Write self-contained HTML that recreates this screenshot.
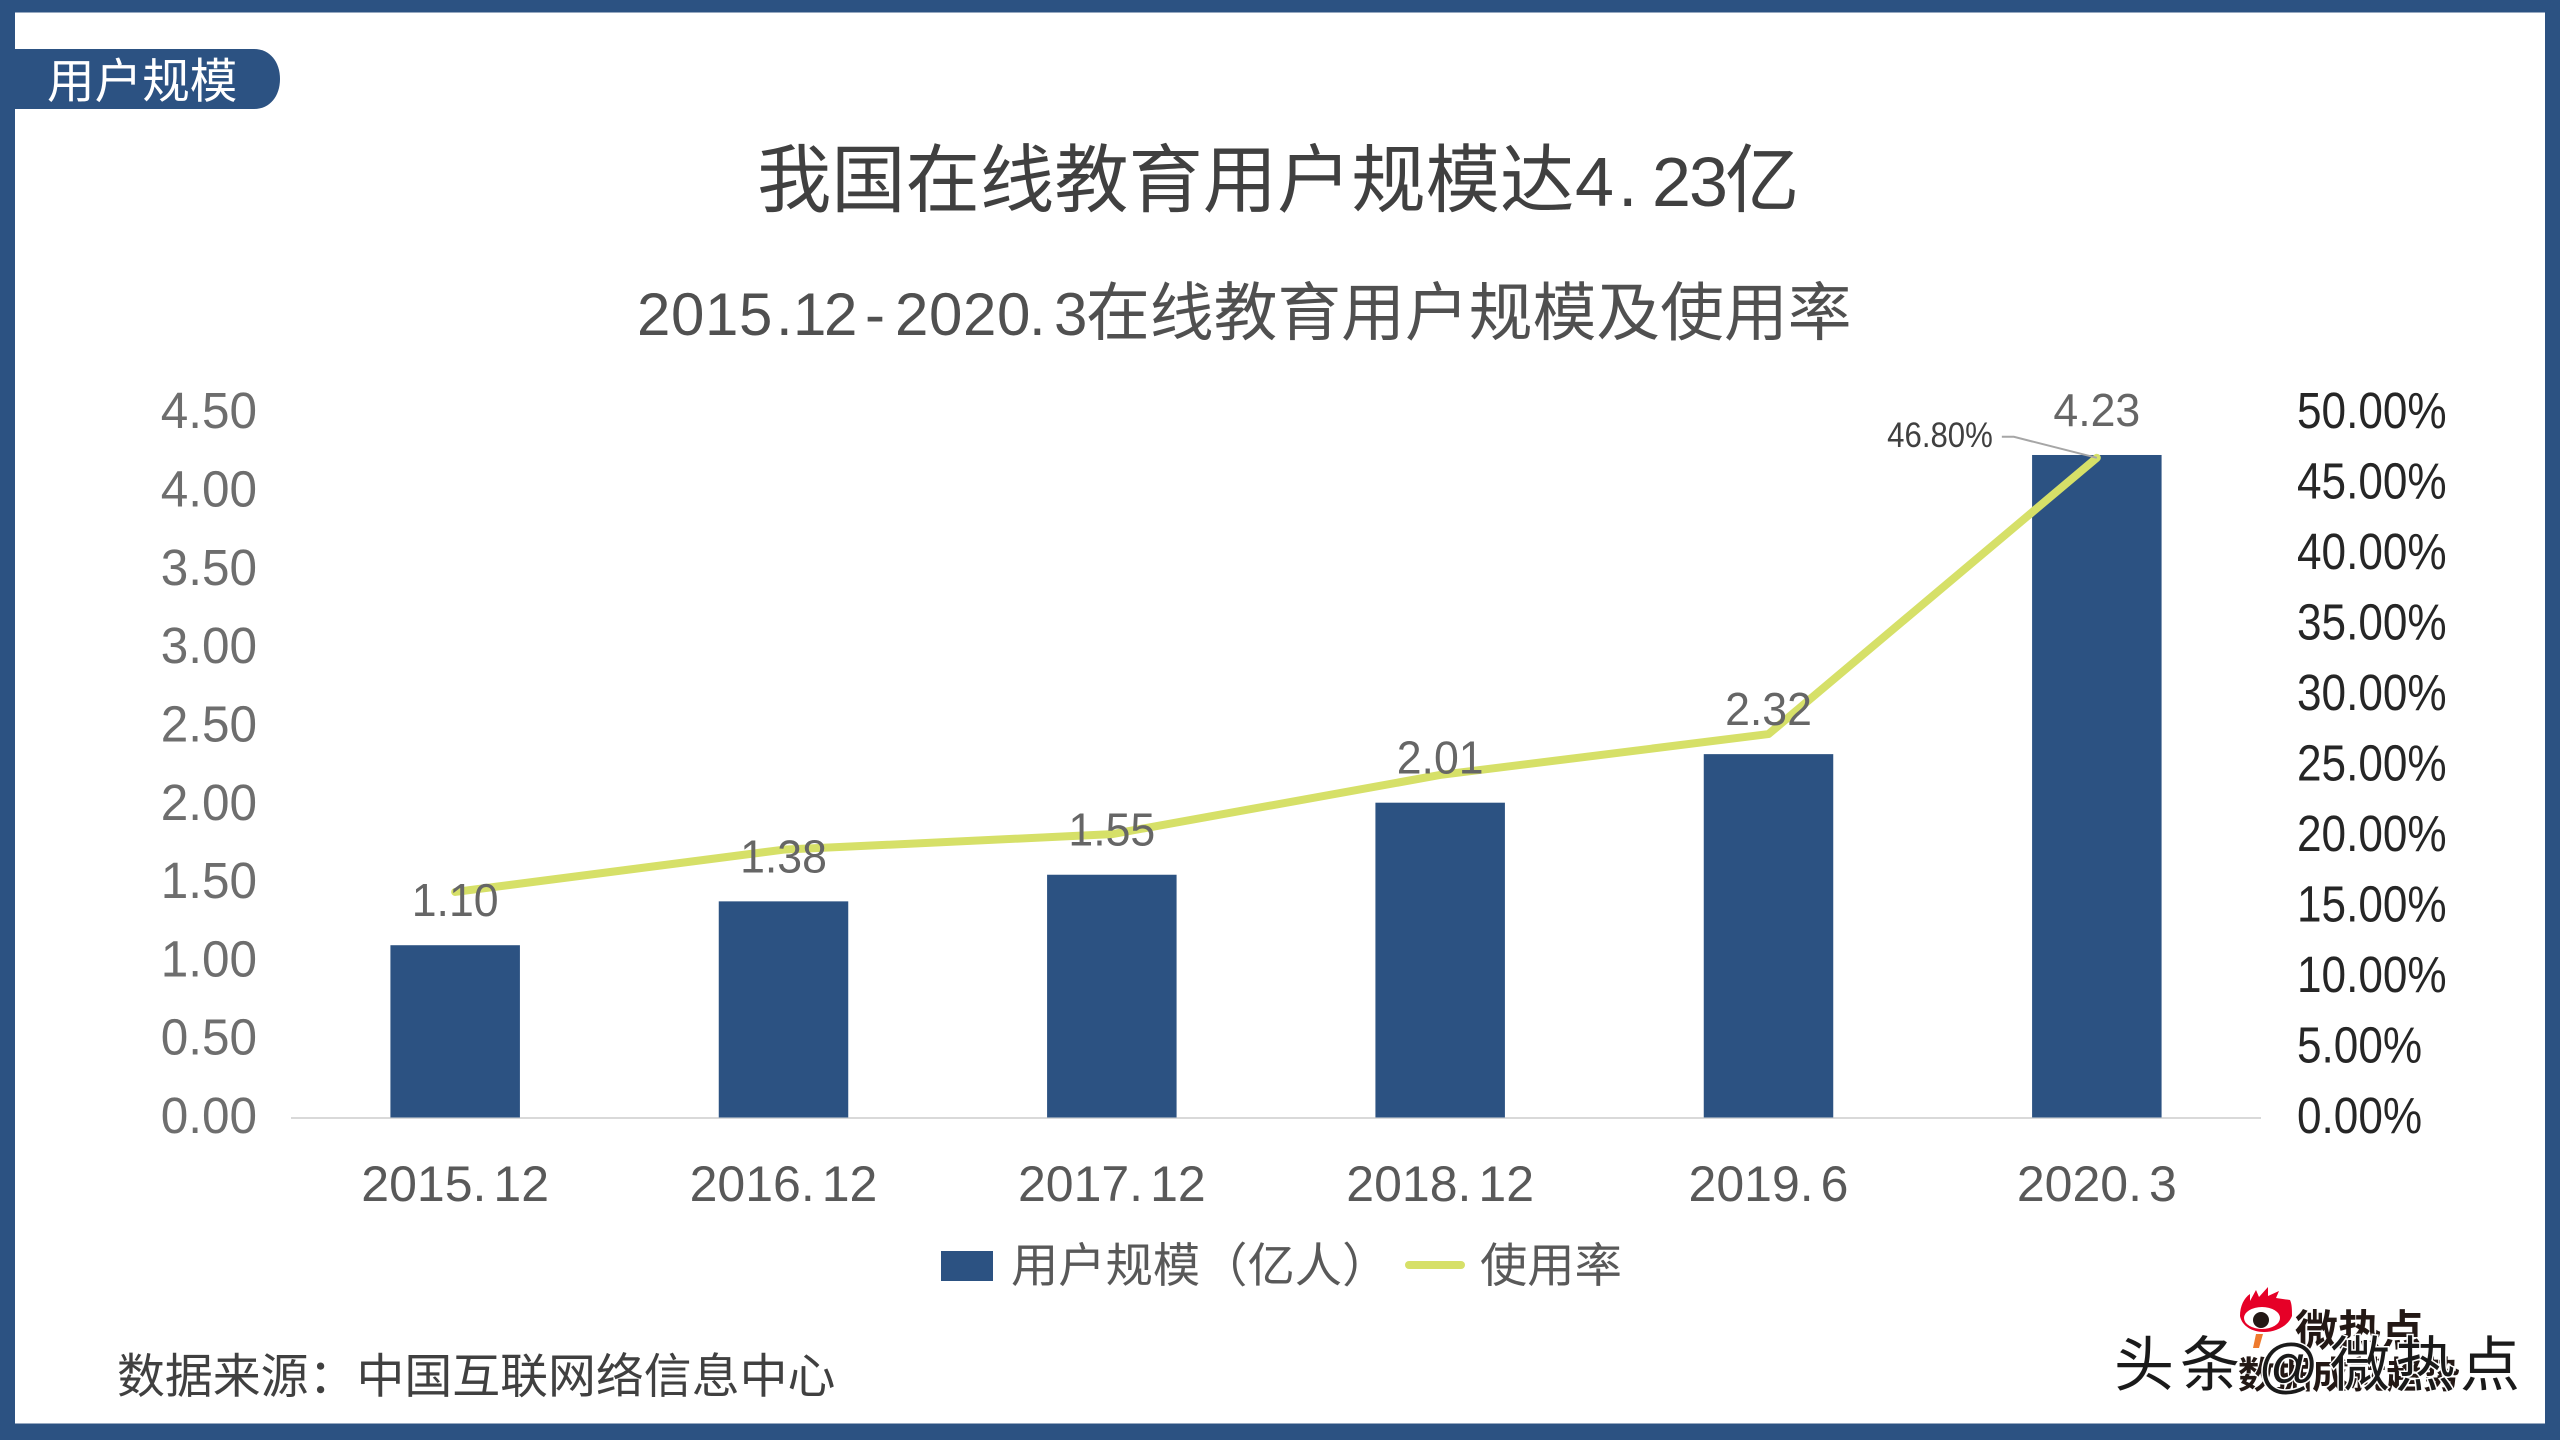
<!DOCTYPE html>
<html lang="zh-CN">
<head>
<meta charset="utf-8">
<title>我国在线教育用户规模达4.23亿</title>
<style>
html,body{margin:0;padding:0;background:#fff;}
svg{display:block;}
text{font-family:"Liberation Sans","Noto Sans CJK SC",sans-serif;}
</style>
</head>
<body>
<svg id="chart" xmlns="http://www.w3.org/2000/svg" width="2560" height="1440" viewBox="0 0 2560 1440">
  <rect x="0" y="0" width="2560" height="1440" fill="#2C5282"/>
  <rect x="15" y="12.5" width="2530" height="1411" fill="#FFFFFF"/>
  <path d="M15 49H254C270 49 280 62 280 79C280 96 270 109 254 109H15Z" fill="#2C5282"/>
  <text x="47" y="98" font-size="47.6" fill="#FFFFFF">用户规模</text>
  <text x="757" y="206" font-size="74.3" fill="#404040">我国在线教育用户规模达<tspan x="1575 1618 1652 1689" font-size="70">4.23</tspan><tspan x="1725">亿</tspan></text>
  <text x="637 671 705 739 776 793 824 865 895 929 963 997 1029 1054" y="335" font-size="60" fill="#505050">2015.12-2020.3</text>
  <text x="1086" y="335" font-size="63.8" fill="#505050">在线教育用户规模及使用率</text>
  <g id="plot"></g>
  <g>
    <rect x="941" y="1251" width="52" height="30" fill="#2C5282"/>
    <text x="1011" y="1282" font-size="47.3" fill="#595959">用户规模（亿人）</text>
    <line x1="1409" y1="1265" x2="1461" y2="1265" stroke="#D6E068" stroke-width="8" stroke-linecap="round"/>
    <text x="1480" y="1282" font-size="47.3" fill="#595959">使用率</text>
  </g>
  <text x="117" y="1393" font-size="47.9" fill="#404040">数据来源：中国互联网络信息中心</text>
  <g>
    <path d="M2240 1316C2240 1306 2244 1298 2250 1294L2250 1301L2256 1290L2259 1297L2268 1287L2268 1296L2279 1291L2276 1298L2290 1300C2292 1304 2292 1310 2292 1316C2288 1326 2276 1332 2264 1332C2252 1332 2242 1326 2240 1316Z" fill="#E60027"/>
    <ellipse cx="2262" cy="1318" rx="18" ry="11" fill="#FFFFFF"/>
    <circle cx="2261" cy="1320" r="8" fill="#231815"/>
    <path d="M2256 1334H2263L2259 1348H2253Z" fill="#EE7A2E"/>
    <text x="2295" y="1346" font-size="43" font-weight="700" fill="#231815">微热点</text>
    <text x="2238" y="1388" font-size="37" font-weight="700" fill="#231815">数据成就趋势</text>
    <text x="2114 2180 2258 2330 2395 2460" y="1386" font-size="60" fill="#1A1A1A" stroke="#FFFFFF" stroke-width="3" paint-order="stroke">头条@微热点</text>
  </g>
</svg>
<script>
const categories = ['2015.12', '2016.12', '2017.12', '2018.12', '2019.6', '2020.3'];
const users = [1.10, 1.38, 1.55, 2.01, 2.32, 4.23];
const rates = [16.0, 19.0, 20.1, 24.3, 27.2, 46.8];
const leftTicks = [0, 0.5, 1, 1.5, 2, 2.5, 3, 3.5, 4, 4.5];
const rightTicks = [0, 5, 10, 15, 20, 25, 30, 35, 40, 45, 50];
const leftMax = 4.5;
const rightMax = 50;

const NS = 'http://www.w3.org/2000/svg';
const plot = document.getElementById('plot');
const plotLeft = 291, plotRight = 2261, plotBottom = 1117.5, plotTop = 412.7;
const step = (plotRight - plotLeft) / categories.length;
const barWidth = 129.5;

function xAt(i) { return plotLeft + step * (i + 0.5); }
function yLeft(v) { return plotBottom - (v / leftMax) * (plotBottom - plotTop); }
function yRight(v) { return plotBottom - (v / rightMax) * (plotBottom - plotTop); }
function make(tag, attrs, text) {
  const el = document.createElementNS(NS, tag);
  for (const k in attrs) el.setAttribute(k, attrs[k]);
  if (text !== undefined) el.textContent = text;
  plot.appendChild(el);
  return el;
}
function squeeze(el, k) {
  el.setAttribute('textLength', el.getComputedTextLength() * k);
  el.setAttribute('lengthAdjust', 'spacingAndGlyphs');
}

leftTicks.forEach(function (t) {
  const el = make('text', {x: 257, y: yLeft(t) + 15.5, 'font-size': 51, 'text-anchor': 'end', fill: '#6E6E6E'}, t.toFixed(2));
  
  
  squeeze(el, 0.97);
});

rightTicks.forEach(function (t) {
  const el = make('text', {x: 2297, y: yRight(t) + 15.5, 'font-size': 51, fill: '#262626'}, t.toFixed(2) + '%');
  
  
  squeeze(el, 0.865);
});

const axisLine = make('line', {x1: plotLeft, y1: plotBottom + 0.5, x2: plotRight, y2: plotBottom + 0.5, stroke: '#D9D9D9', 'stroke-width': 2});



users.forEach(function (v, i) {
  const bar = make('rect', {x: xAt(i) - barWidth / 2, y: yLeft(v), width: barWidth, height: plotBottom - yLeft(v), fill: '#2C5282'});
  
  
});

const rateLine = make('polyline', {
  points: rates.map(function (r, i) { return xAt(i) + ',' + yRight(r); }).join(' '),
  fill: 'none', stroke: '#D6E068', 'stroke-width': 8, 'stroke-linecap': 'round', 'stroke-linejoin': 'round'
});



users.forEach(function (v, i) {
  const label = make('text', {x: xAt(i), y: yLeft(v) - 29, 'font-size': 46, 'text-anchor': 'middle', fill: '#666666'}, v.toFixed(2));
  
  
  squeeze(label, 0.97);
});

categories.forEach(function (c, i) {
  const parts = c.split('.');
  const label = make('text', {x: xAt(i), y: 1201, 'font-size': 50, 'text-anchor': 'middle', fill: '#595959'});
  
  
  const a = document.createElementNS(NS, 'tspan');
  a.textContent = parts[0] + '.';
  label.appendChild(a);
  const b = document.createElementNS(NS, 'tspan');
  b.setAttribute('dx', '7');
  b.textContent = parts[1];
  label.appendChild(b);
});

const lastIndex = rates.length - 1;
const lastX = xAt(lastIndex), lastY = yRight(rates[lastIndex]);
const leader = make('polyline', {
  points: (lastX - 95) + ',' + (lastY - 21) + ' ' + (lastX - 83) + ',' + (lastY - 21) + ' ' + lastX + ',' + lastY,
  fill: 'none', stroke: '#A6A6A6', 'stroke-width': 2
});



const rateLabel = make('text', {x: lastX - 104, y: lastY - 11, 'font-size': 35, 'text-anchor': 'end', fill: '#404040'}, rates[lastIndex].toFixed(2) + '%');


squeeze(rateLabel, 0.89);
</script>
</body>
</html>
